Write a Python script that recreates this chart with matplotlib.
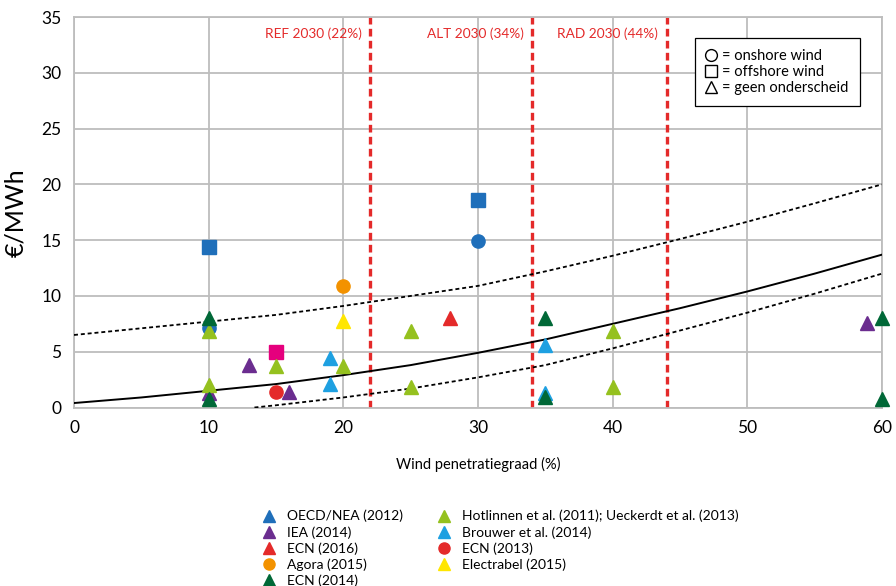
import numpy as np
import matplotlib.pyplot as plt
from matplotlib.lines import Line2D

plt.rcParams['font.family'] = ['Lato', 'DejaVu Sans']

# trend curves
curve_x = [0, 5, 10, 15, 20, 25, 30, 35, 40, 45, 50, 55, 60]
mid_y = [0.4, 0.9, 1.5, 2.1, 2.9, 3.8, 4.9, 6.1, 7.5, 8.9, 10.4, 12.0, 13.7]
upper_y = [6.5, 7.1, 7.7, 8.3, 9.1, 10.0, 10.9, 12.2, 13.6, 15.1, 16.65, 18.3, 20.0]
lower_x = [13.4, 15, 20, 25, 30, 35, 40, 45, 50, 55, 60]
lower_y = [0.0, 0.2, 0.9, 1.7, 2.7, 3.8, 5.3, 6.9, 8.5, 10.2, 12.0]

# scenarios
scen_x = [22, 34, 44]
scen_lbl = ['REF 2030 (22%)', 'ALT 2030 (34%)', 'RAD 2030 (44%)']

# studies
oecd_sq_x = [10, 30]
oecd_sq_y = [14.4, 18.6]
oecd_ci_x = [10, 30]
oecd_ci_y = [7.1, 14.9]
iea_x = [10, 13, 16, 58.9]
iea_y = [1.3, 3.8, 1.35, 7.6]
ecn16_x = [27.9]
ecn16_y = [8.0]
agora_x = [20]
agora_y = [10.9]
hotl_x = [10, 10, 15, 20, 25, 25, 40, 40]
hotl_y = [6.85, 2.0, 3.7, 3.7, 6.85, 1.8, 6.85, 1.8]
brouwer_x = [19, 19, 35, 35]
brouwer_y = [4.4, 2.1, 5.6, 1.3]
ecn13_x = [15]
ecn13_y = [1.35]
electr_x = [20]
electr_y = [7.75]
pink_sq_x = [15]
pink_sq_y = [5.0]
ecn14_x = [10, 10, 35, 35, 60, 60]
ecn14_y = [8.0, 0.8, 8.0, 0.9, 8.0, 0.8]

c_oecd = '#1f6fba'
c_iea = '#6b2d8f'
c_red = '#e42a2a'
c_agora = '#f39200'
c_ecn14 = '#006837'
c_hotl = '#95c11f'
c_brouwer = '#1ea0e1'
c_electr = '#ffe600'
c_pink = '#e5007d'

fig = plt.figure(figsize=(8.96, 5.86), dpi=100)
ax = fig.add_axes([74/896, 1-407.5/586, 808/896, 390.5/586])

ax.plot(curve_x, mid_y, color='black', lw=1.4, zorder=3)
ax.plot(curve_x, upper_y, color='black', lw=1.3, ls=(0, (2.2, 1.6)), zorder=3)
ax.plot(lower_x, lower_y, color='black', lw=1.3, ls=(0, (2.2, 1.6)), zorder=3)

for sx, lab in zip(scen_x, scen_lbl):
    ax.axvline(sx, color=c_red, lw=2.4, ls=(0, (2.3, 1.3)), zorder=2)
    ax.annotate(lab, (sx, 33.5), xytext=(-6, 0), textcoords='offset points',
                ha='right', va='center', color=c_red, fontsize=9.8)

ms = 9.5
ax.plot(oecd_sq_x, oecd_sq_y, 's', color=c_oecd, ms=ms, zorder=4)
ax.plot(oecd_ci_x, oecd_ci_y, 'o', color=c_oecd, ms=ms, zorder=4)
ax.plot(pink_sq_x, pink_sq_y, 's', color=c_pink, ms=ms, zorder=4)
ax.plot(iea_x, iea_y, '^', color=c_iea, ms=ms, zorder=4)
ax.plot(ecn16_x, ecn16_y, '^', color=c_red, ms=ms, zorder=4)
ax.plot(agora_x, agora_y, 'o', color=c_agora, ms=ms, zorder=4)
ax.plot(hotl_x, hotl_y, '^', color=c_hotl, ms=ms, zorder=4)
ax.plot(brouwer_x, brouwer_y, '^', color=c_brouwer, ms=ms, zorder=4)
ax.plot(ecn13_x, ecn13_y, 'o', color=c_red, ms=ms, zorder=4)
ax.plot(electr_x, electr_y, '^', color=c_electr, ms=ms, zorder=4)
ax.plot(ecn14_x, ecn14_y, '^', color=c_ecn14, ms=ms, zorder=5, clip_on=False)

ax.set_xlim(0, 60)
ax.set_ylim(0, 35)
ax.set_xticks(range(0, 61, 10))
ax.set_yticks(range(0, 36, 5))
ax.grid(color='#bdbdbd', lw=1.3)
ax.set_axisbelow(True)
for s in ax.spines.values():
    s.set_color('#bdbdbd')
    s.set_linewidth(1.3)
ax.tick_params(length=0, labelsize=12.5, pad=9)
ax.set_ylabel('€/MWh', fontsize=18, labelpad=10)
ax.set_xlabel('Wind penetratiegraad (%)', fontsize=10.5, labelpad=15)

# marker-shape key
shape_h = [Line2D([], [], ls='', marker=m, mfc='white', mec='black', mew=1.0, ms=8.5)
           for m in ['o', 's', '^']]
key = ax.legend(shape_h, ['= onshore wind', '= offshore wind', '= geen onderscheid'],
                loc='upper right', bbox_to_anchor=(867/808 - 74/808, 1 - 14/390.5),
                fontsize=10.5, handlelength=0.7, handletextpad=0.4, labelspacing=0.12,
                borderpad=0.75, fancybox=False, framealpha=1, edgecolor='black')
key.get_frame().set_linewidth(0.9)
key.set_zorder(6)

handles = [
    Line2D([], [], ls='', marker='^', color=c_oecd, ms=8),
    Line2D([], [], ls='', marker='^', color=c_iea, ms=8),
    Line2D([], [], ls='', marker='^', color=c_red, ms=8),
    Line2D([], [], ls='', marker='o', color=c_agora, ms=8),
    Line2D([], [], ls='', marker='^', color=c_ecn14, ms=8),
    Line2D([], [], ls='', marker='^', color=c_hotl, ms=8),
    Line2D([], [], ls='', marker='^', color=c_brouwer, ms=8),
    Line2D([], [], ls='', marker='o', color=c_red, ms=8),
    Line2D([], [], ls='', marker='^', color=c_electr, ms=8),
]
labels = ['OECD/NEA (2012)', 'IEA (2014)', 'ECN (2016)', 'Agora (2015)', 'ECN (2014)',
          'Hotlinnen et al. (2011); Ueckerdt et al. (2013)', 'Brouwer et al. (2014)',
          'ECN (2013)', 'Electrabel (2015)']
fig.legend(handles, labels, ncol=2, loc='upper left', bbox_to_anchor=(256/896, 1-503/586),
           frameon=False, fontsize=10, handlelength=0.8, handletextpad=0.9,
           columnspacing=2.6, labelspacing=0.25, borderpad=0)

plt.savefig('out.png', dpi=100)
